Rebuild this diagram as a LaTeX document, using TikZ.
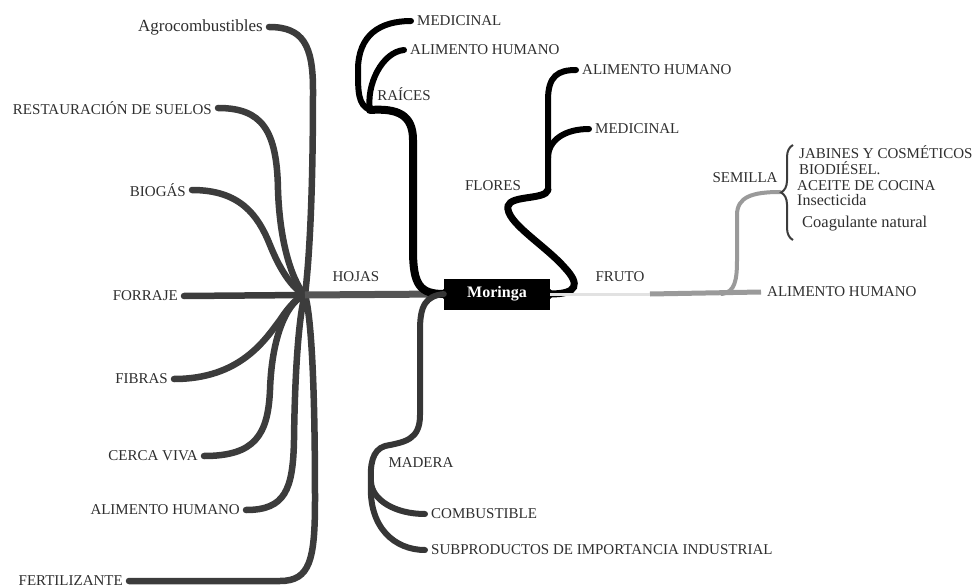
\documentclass[tikz,border=0pt]{standalone}
\usepackage{fontspec}
\setmainfont{Liberation Serif}
\usetikzlibrary{decorations.pathreplacing}
\definecolor{txt}{HTML}{2E2E2E}
\definecolor{branch}{HTML}{3C3C3C}
\definecolor{trunk}{HTML}{555555}
\definecolor{fruit}{HTML}{9A9A9A}
\definecolor{fruitlight}{HTML}{E2E2E2}
\tikzset{
  lbl/.style={text=txt, inner xsep=6pt, inner ysep=0pt, font=\fontsize{15}{17}\selectfont},
  lblw/.style={lbl, font=\fontsize{17}{19}\selectfont},
  tag/.style={text=txt, inner sep=0pt, font=\fontsize{15}{17}\selectfont},
  leftbr/.style={draw=branch, line width=6.5pt, line cap=round},
  blackbr/.style={draw=black, line width=6pt, line cap=round},
  thickblack/.style={draw=black, line width=8pt, line cap=round},
  woodbr/.style={draw=branch!90!black, line width=6pt, line cap=round},
  fruitbr/.style={draw=fruit, line width=5pt},
  rootbox/.style={fill=black, text=white, font=\fontsize{16}{18}\selectfont\bfseries,
    minimum width=106pt, minimum height=31pt, inner sep=0pt}
}
\begin{document}
\begin{tikzpicture}[x=1pt,y=-1pt]
\useasboundingbox (0,0) rectangle (974,588);

% central box
\node[rootbox] (mor) at (497,294) {Moringa};
\fill (mor.west) ++(0,-5) -- ++(-5,5) -- ++(5,5) -- cycle;
\fill (mor.east) ++(0,-5) -- ++(5,5) -- ++(-5,5) -- cycle;

% hub of HOJAS
\coordinate (hub) at (305,295);

% left labels
\node[lblw, anchor=east] (agro) at (269,27) {Agrocombustibles};
\node[lbl, anchor=east] (rest) at (218,108) {RESTAURACIÓN DE SUELOS};
\node[lbl, anchor=east] (biog) at (192,190) {BIOGÁS};
\node[lbl, anchor=east] (forr) at (184,296) {FORRAJE};
\node[lbl, anchor=east] (fibr) at (174,379) {FIBRAS};
\node[lbl, anchor=east] (cerca) at (204,456) {CERCA VIVA};
\node[lbl, anchor=east] (aliml) at (246,510) {ALIMENTO HUMANO};
\node[lbl, anchor=east] (fert) at (129,581) {FERTILIZANTE};

% left branches
\draw[leftbr] (agro.east) .. controls (303,27) and (313,45) .. (313,90)
  .. controls (313,200) and (309,262) .. (hub);
\draw[leftbr] (rest.east) .. controls (262,108) and (277,130) .. (278,190)
  .. controls (280,250) and (295,285) .. (hub);
\draw[leftbr] (biog.east) .. controls (240,190) and (258,215) .. (270,245)
  .. controls (282,275) and (295,290) .. (hub);
\draw[leftbr] (forr.east) -- (hub);
\draw[leftbr] (fibr.east) .. controls (240,379) and (265,340) .. (280,320)
  .. controls (290,305) and (298,297) .. (hub);
\draw[leftbr] (cerca.east) .. controls (255,456) and (268,435) .. (270,390)
  .. controls (272,330) and (290,300) .. (hub);
\draw[leftbr] (aliml.east) .. controls (285,510) and (293,490) .. (294,440)
  .. controls (295,360) and (300,310) .. (hub);
\draw[leftbr] (fert.east) -- (280,581) .. controls (310,581) and (315,560) .. (315,500)
  .. controls (315,380) and (311,315) .. (hub);

% HOJAS trunk
\draw[draw=trunk, line width=7pt] (hub) -- (mor.west);
\node[tag] (hojas) at (356,277) {HOJAS};

% RAICES
\coordinate (raij) at (370,110);
\node[tag] (raices) at (404,94) {RAÍCES};
\node[lbl, anchor=west] (med1) at (411,21) {MEDICINAL};
\node[lbl, anchor=west] (al1) at (404,50) {ALIMENTO HUMANO};
\draw[thickblack] (mor.west) .. controls (420,294) and (413,285) .. (413,250)
  -- (413,140) .. controls (413,115) and (398,108) .. (raij);
\draw[blackbr] (raij) .. controls (358,105) and (358,92) .. (358,70)
  .. controls (358,35) and (380,21) .. (med1.west);
\draw[blackbr] (raij) .. controls (366,85) and (382,52) .. (al1.west);

% FLORES
\coordinate (florj) at (548,190);
\coordinate (florm) at (548,158);
\node[tag] (flores) at (493,186) {FLORES};
\node[lbl, anchor=west] (al2) at (576,70) {ALIMENTO HUMANO};
\node[lbl, anchor=west] (med2) at (589,129) {MEDICINAL};
\draw[draw=black, line width=7pt, line cap=round] (mor.east) .. controls (578,294) and (580,284) .. (565,268)
  .. controls (545,245) and (505,222) .. (508,206)
  .. controls (511,195) and (545,200) .. (florj);
\draw[blackbr] (florj) -- (florm) -- (548,100) .. controls (548,76) and (558,70) .. (al2.west);
\draw[blackbr] (florm) .. controls (548,140) and (565,129) .. (med2.west);

% FRUTO
\coordinate (frutoc) at (650,294);
\coordinate (semj) at (722,294);
\node[tag] (fruto) at (620,277) {FRUTO};
\node[lbl, anchor=west] (al3) at (761,292) {ALIMENTO HUMANO};
\draw[draw=fruitlight, line width=3pt] (mor.east) -- (frutoc);
\draw[fruitbr] (frutoc) -- (al3.west);
\node[tag] (semilla) at (745,178) {SEMILLA};
\coordinate (btop) at (793,145);
\coordinate (bbot) at (793,240);
\coordinate (btip) at (780,192);
\draw[draw=fruit, line width=4pt, line cap=round] (semj) .. controls (735,292) and (737,280) .. (737,260)
  -- (737,215) .. controls (737,197) and (752,192) .. (btip);
\draw[draw=branch, line width=2pt, decorate, decoration={brace, amplitude=12pt}] (bbot) -- (btop);
\node[tag, anchor=base west] (jab) at (799,159) {JABINES Y COSMÉTICOS};
\node[tag, anchor=base west] (biod) at (799,175) {BIODIÉSEL.};
\node[tag, anchor=base west] (acei) at (797,191) {ACEITE DE COCINA};
\node[tag, anchor=base west, font=\fontsize{16}{18}\selectfont] (insec) at (797,206) {Insecticida};
\node[tag, anchor=base west, font=\fontsize{16.5}{18}\selectfont] (coag) at (802,227) {Coagulante natural};

% MADERA
\coordinate (madj) at (371,482);
\node[tag] (madera) at (421,463) {MADERA};
\node[lbl, anchor=west] (comb) at (425,514) {COMBUSTIBLE};
\node[lbl, anchor=west] (subp) at (425,550) {SUBPRODUCTOS DE IMPORTANCIA INDUSTRIAL};
\draw[woodbr] (mor.west) .. controls (426,296) and (420,305) .. (420,330)
  -- (420,415) .. controls (420,440) and (405,442) .. (385,446)
  .. controls (372,450) and (370,465) .. (madj);
\draw[woodbr] (madj) .. controls (372,500) and (395,514) .. (comb.west);
\draw[woodbr] (madj) .. controls (368,528) and (395,550) .. (subp.west);
\end{tikzpicture}
\end{document}
